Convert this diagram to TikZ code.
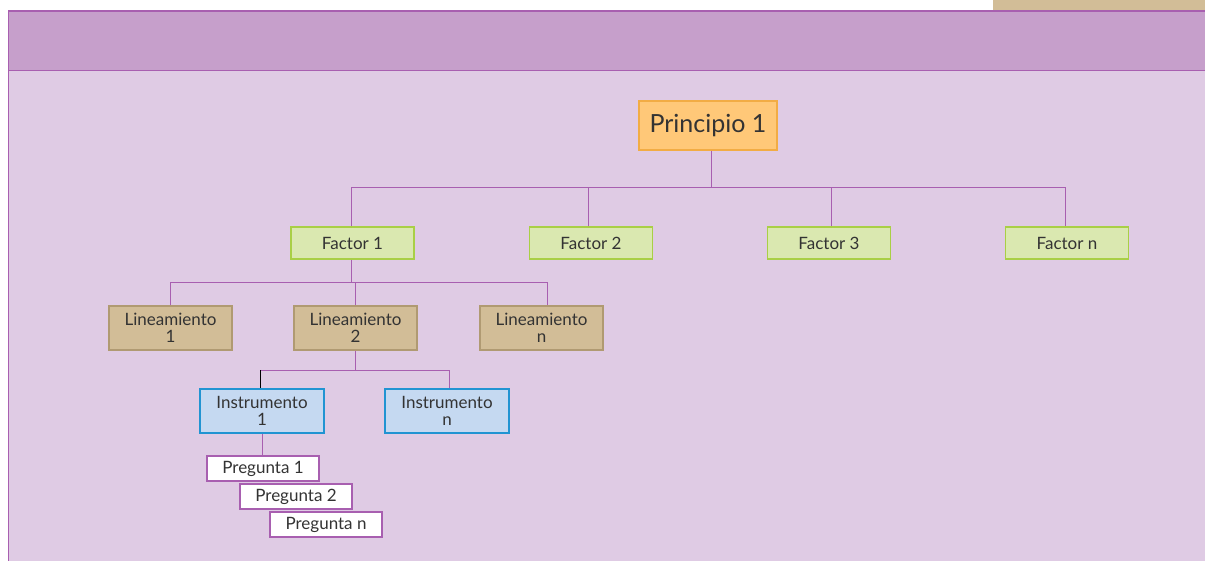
\documentclass[tikz,border=0pt]{standalone}
\usepackage{fontspec}
\setmainfont{Lato}
\definecolor{hdr}{HTML}{C69FCB}
\definecolor{hdrline}{HTML}{A85FB0}
\definecolor{bodyc}{HTML}{DFCBE4}
\definecolor{tanc}{HTML}{D2BD97}
\definecolor{tanline}{HTML}{B09A72}
\definecolor{orfill}{HTML}{FFC878}
\definecolor{orline}{HTML}{F2AC44}
\definecolor{grfill}{HTML}{DAE8B0}
\definecolor{grline}{HTML}{A9CF46}
\definecolor{blfill}{HTML}{C5D9F1}
\definecolor{blline}{HTML}{2194D2}
\definecolor{conn}{HTML}{A85FB0}
\definecolor{txt}{HTML}{333333}
\tikzset{
  box/.style={rectangle, draw, line width=1.4pt, inner sep=0pt, text=txt, align=center,
    font=\fontsize{17}{16.5}\selectfont},
  princ/.style={box, fill=orfill, draw=orline, minimum width=138pt, minimum height=49pt,
    font=\fontsize{25}{26}\selectfont},
  factor/.style={box, fill=grfill, draw=grline, minimum width=123pt, minimum height=32pt},
  linea/.style={box, fill=tanc, draw=tanline, minimum width=123pt, minimum height=44pt},
  instr/.style={box, fill=blfill, draw=blline, minimum width=124pt, minimum height=44pt},
  preg/.style={box, fill=white, draw=conn, minimum width=112pt, minimum height=25pt},
  wire/.style={draw=conn, line width=1pt},
}
\begin{document}
\begin{tikzpicture}[x=1pt,y=-1pt]
\useasboundingbox (0,0) rectangle (1205,561);
\fill[white] (0,0) rectangle (1205,561);
% top-right tab
\fill[tanc] (993,0) rectangle (1205,11);
% body
\filldraw[fill=bodyc, draw=hdrline, line width=1.2pt] (8.5,11) rectangle (1210,570);
% header
\filldraw[fill=hdr, draw=hdrline, line width=1.2pt] (8.5,11) rectangle (1210,70.5);

% nodes
\node[princ] (p) at (708,125.5) {Principio 1};
\node[factor] (f1) at (352.5,243) {Factor 1};
\node[factor] (f2) at (591,243) {Factor 2};
\node[factor] (f3) at (829,243) {Factor 3};
\node[factor] (fn) at (1067,243) {Factor n};
\node[linea] (l1) at (170.5,328) {Lineamiento\\1};
\node[linea] (l2) at (355.5,328) {Lineamiento\\2};
\node[linea] (ln) at (541.5,328) {Lineamiento\\n};
\node[instr] (i1) at (262,411) {Instrumento\\1};
\node[instr] (in) at (447,411) {Instrumento\\n};
\node[preg] (q1) at (263,468.5) {Pregunta 1};
\node[preg] (q2) at (296,496.5) {Pregunta 2};
\node[preg] (qn) at (326,524.5) {Pregunta n};

% connectors
\coordinate (bus1) at (711,188);
\coordinate (bus2) at (351,283);
\coordinate (bus3) at (355,370);
\draw[wire] ([xshift=3pt]p.south) -- ([xshift=3pt]p.south |- bus1);
\draw[wire] ([xshift=-1.5pt]f1.north) |- ([xshift=-2pt]fn.north |- bus1) -- ([xshift=-2pt]fn.north);
\draw[wire] ([xshift=-3pt]f2.north) -- ([xshift=-3pt]f2.north |- bus1);
\draw[wire] ([xshift=2pt]f3.north) -- ([xshift=2pt]f3.north |- bus1);
\draw[wire] ([xshift=-1.5pt]f1.south) -- ([xshift=-1.5pt]f1.south |- bus2);
\draw[wire] ([xshift=-0.5pt]l1.north) |- ([xshift=6pt]ln.north |- bus2) -- ([xshift=6pt]ln.north);
\draw[wire] ([xshift=-0.5pt]l2.north) -- ([xshift=-0.5pt]l2.north |- bus2);
\draw[wire] ([xshift=-0.5pt]l2.south) -- ([xshift=-0.5pt]l2.south |- bus3);
\draw[wire] ([xshift=-2pt]i1.north |- bus3) -- ([xshift=2pt]in.north |- bus3) -- ([xshift=2pt]in.north);
\draw[draw=black, line width=1pt] ([xshift=-2pt]i1.north |- bus3) -- ([xshift=-2pt]i1.north);
\draw[wire] (i1.south) -- (i1.south |- q1.north);
\end{tikzpicture}
\end{document}
